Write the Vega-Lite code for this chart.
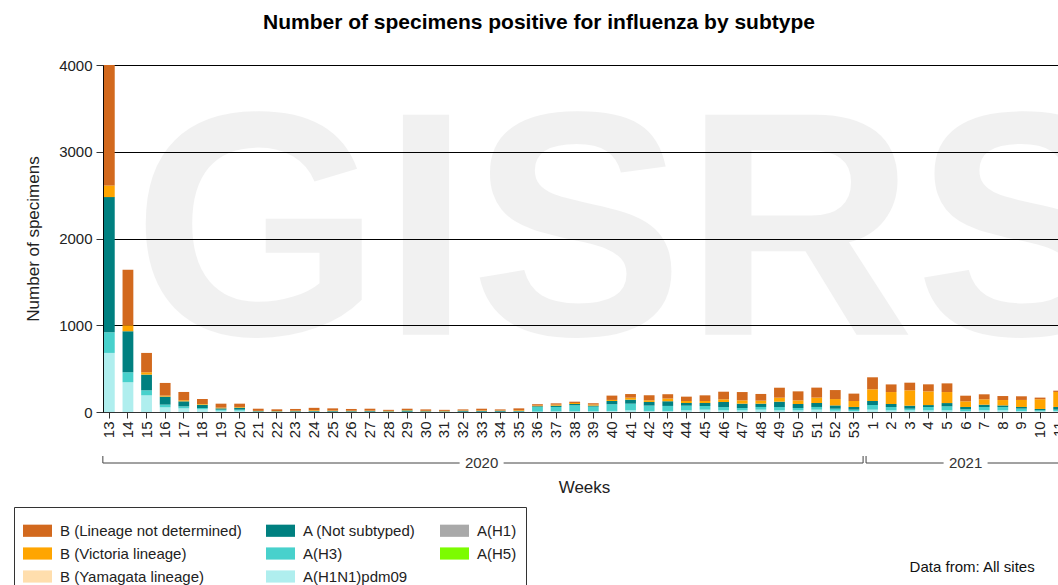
{
  "$schema": "https://vega.github.io/schema/vega-lite/v6.json",
  "padding": {"left": 13, "top": 12, "right": 0, "bottom": 0},
  "background": "white",
  "config": {
    "font": "Liberation Sans",
    "view": {"stroke": null},
    "axis": {"labelFont": "Liberation Sans", "titleFont": "Liberation Sans"},
    "legend": {"labelFont": "Liberation Sans"}
  },
  "title": {
    "text": "Number of specimens positive for influenza by subtype",
    "font": "Liberation Sans",
    "fontSize": 21,
    "fontWeight": "bold",
    "color": "#000",
    "anchor": "middle",
    "dx": -32,
    "offset": 25
  },
  "datasets": {
    "flu": [
      {"week": "13", "pdm09": 681, "h3": 238, "ns": 1558, "vic": 135, "bnd": 1388},
      {"week": "14", "pdm09": 342, "h3": 115, "ns": 473, "vic": 69, "bnd": 642},
      {"week": "15", "pdm09": 192, "h3": 58, "ns": 181, "vic": 27, "bnd": 223},
      {"week": "16", "pdm09": 54, "h3": 31, "ns": 92, "vic": 12, "bnd": 146},
      {"week": "17", "pdm09": 42, "h3": 23, "ns": 58, "vic": 12, "bnd": 96},
      {"week": "18", "pdm09": 31, "h3": 15, "ns": 38, "vic": 8, "bnd": 58},
      {"week": "19", "pdm09": 15, "h3": 12, "ns": 15, "vic": 8, "bnd": 46},
      {"week": "20", "pdm09": 15, "h3": 12, "ns": 23, "vic": 8, "bnd": 38},
      {"week": "21", "pdm09": 2, "h3": 3, "ns": 5, "vic": 3, "bnd": 25},
      {"week": "22", "pdm09": 2, "h3": 2, "ns": 4, "vic": 3, "bnd": 20},
      {"week": "23", "pdm09": 2, "h3": 2, "ns": 6, "vic": 5, "bnd": 20},
      {"week": "24", "pdm09": 2, "h3": 3, "ns": 7, "vic": 8, "bnd": 28},
      {"week": "25", "pdm09": 2, "h3": 2, "ns": 7, "vic": 6, "bnd": 25},
      {"week": "26", "pdm09": 2, "h3": 2, "ns": 6, "vic": 5, "bnd": 20},
      {"week": "27", "pdm09": 2, "h3": 2, "ns": 7, "vic": 5, "bnd": 22},
      {"week": "28", "pdm09": 1, "h3": 2, "ns": 5, "vic": 5, "bnd": 12},
      {"week": "29", "pdm09": 1, "h3": 3, "ns": 14, "vic": 5, "bnd": 15},
      {"week": "30", "pdm09": 1, "h3": 2, "ns": 6, "vic": 5, "bnd": 16},
      {"week": "31", "pdm09": 1, "h3": 2, "ns": 5, "vic": 5, "bnd": 12},
      {"week": "32", "pdm09": 1, "h3": 3, "ns": 10, "vic": 4, "bnd": 12},
      {"week": "33", "pdm09": 1, "h3": 3, "ns": 8, "vic": 6, "bnd": 20},
      {"week": "34", "pdm09": 1, "h3": 3, "ns": 10, "vic": 4, "bnd": 12},
      {"week": "35", "pdm09": 2, "h3": 4, "ns": 6, "vic": 8, "bnd": 22},
      {"week": "36", "pdm09": 4, "h3": 55, "ns": 8, "vic": 8, "bnd": 15},
      {"week": "37", "pdm09": 8, "h3": 50, "ns": 15, "vic": 12, "bnd": 15},
      {"week": "38", "pdm09": 8, "h3": 69, "ns": 15, "vic": 12, "bnd": 15},
      {"week": "39", "pdm09": 8, "h3": 54, "ns": 12, "vic": 12, "bnd": 15},
      {"week": "40", "pdm09": 12, "h3": 77, "ns": 38, "vic": 12, "bnd": 50},
      {"week": "41", "pdm09": 19, "h3": 77, "ns": 46, "vic": 23, "bnd": 42},
      {"week": "42", "pdm09": 12, "h3": 62, "ns": 42, "vic": 19, "bnd": 58},
      {"week": "43", "pdm09": 12, "h3": 58, "ns": 54, "vic": 31, "bnd": 50},
      {"week": "44", "pdm09": 19, "h3": 54, "ns": 31, "vic": 23, "bnd": 50},
      {"week": "45", "pdm09": 27, "h3": 42, "ns": 35, "vic": 23, "bnd": 65},
      {"week": "46", "pdm09": 19, "h3": 38, "ns": 58, "vic": 31, "bnd": 88},
      {"week": "47", "pdm09": 19, "h3": 27, "ns": 50, "vic": 38, "bnd": 96},
      {"week": "48", "pdm09": 27, "h3": 31, "ns": 38, "vic": 35, "bnd": 77},
      {"week": "49", "pdm09": 19, "h3": 38, "ns": 62, "vic": 46, "bnd": 115},
      {"week": "50", "pdm09": 19, "h3": 27, "ns": 46, "vic": 42, "bnd": 104},
      {"week": "51", "pdm09": 27, "h3": 31, "ns": 46, "vic": 62, "bnd": 115},
      {"week": "52", "pdm09": 15, "h3": 23, "ns": 38, "vic": 73, "bnd": 104},
      {"week": "53", "pdm09": 12, "h3": 15, "ns": 31, "vic": 69, "bnd": 85},
      {"week": "1", "pdm09": 27, "h3": 54, "ns": 46, "vic": 135, "bnd": 138},
      {"week": "2", "pdm09": 19, "h3": 38, "ns": 35, "vic": 138, "bnd": 88},
      {"week": "3", "pdm09": 19, "h3": 19, "ns": 35, "vic": 177, "bnd": 88},
      {"week": "4", "pdm09": 19, "h3": 38, "ns": 23, "vic": 158, "bnd": 81},
      {"week": "5", "pdm09": 19, "h3": 46, "ns": 38, "vic": 127, "bnd": 100},
      {"week": "6", "pdm09": 12, "h3": 19, "ns": 27, "vic": 65, "bnd": 65},
      {"week": "7", "pdm09": 19, "h3": 38, "ns": 27, "vic": 62, "bnd": 58},
      {"week": "8", "pdm09": 19, "h3": 38, "ns": 19, "vic": 62, "bnd": 46},
      {"week": "9", "pdm09": 12, "h3": 27, "ns": 19, "vic": 81, "bnd": 42},
      {"week": "10", "pdm09": 8, "h3": 12, "ns": 15, "vic": 112, "bnd": 19},
      {"week": "11", "pdm09": 12, "h3": 15, "ns": 31, "vic": 173, "bnd": 15}
    ],
    "subtypes": [
      {"key": "pdm09", "label": "A(H1N1)pdm09", "rank": 1},
      {"key": "h3", "label": "A(H3)", "rank": 2},
      {"key": "ns", "label": "A (Not subtyped)", "rank": 4},
      {"key": "vic", "label": "B (Victoria lineage)", "rank": 6},
      {"key": "bnd", "label": "B (Lineage not determined)", "rank": 7}
    ],
    "years": [
      {"year": "2020", "start": "13", "end": "53", "mid": "33"},
      {"year": "2021", "start": "1", "end": "11", "mid": "6"}
    ]
  },
  "vconcat": [
    {
      "width": 962,
      "height": 347,
      "layer": [
        {
          "data": {"values": [{}]},
          "mark": {"type": "text", "text": "GISRS", "font": "Liberation Sans", "fontSize": 320, "fontWeight": "bold", "fill": "#000", "opacity": 0.05, "align": "center", "baseline": "alphabetic"},
          "encoding": {
            "x": {"datum": "41", "type": "ordinal", "bandPosition": 0.5},
            "y": {"datum": 890, "type": "quantitative"}
          }
        },
        {
          "data": {"name": "flu"},
          "transform": [
            {"fold": ["pdm09", "h3", "ns", "vic", "bnd"], "as": ["key", "count"]},
            {"lookup": "key", "from": {"data": {"name": "subtypes"}, "key": "key", "fields": ["label", "rank"]}}
          ],
          "mark": {"type": "bar"},
          "encoding": {
            "x": {
              "field": "week", "type": "ordinal", "sort": null,
              "scale": {"domain": ["13","14","15","16","17","18","19","20","21","22","23","24","25","26","27","28","29","30","31","32","33","34","35","36","37","38","39","40","41","42","43","44","45","46","47","48","49","50","51","52","53","1","2","3","4","5","6","7","8","9","10","11"], "paddingInner": 0.42, "paddingOuter": 0.05},
              "axis": {"title": null, "labelAngle": -90, "labelFontSize": 15, "labelColor": "#222", "labelAlign": "right", "labelBaseline": "middle", "labelPadding": 3, "tickSize": 6, "tickColor": "#333", "domainColor": "#333", "grid": false}
            },
            "y": {
              "field": "count", "type": "quantitative", "stack": "zero",
              "scale": {"domain": [0, 4000], "nice": false},
              "axis": {"title": "Number of specimens", "format": "d", "titleFontSize": 17, "titleFontWeight": "normal", "titleColor": "#222", "titlePadding": 16, "labelFontSize": 15, "labelColor": "#222", "labelPadding": 4, "values": [0, 1000, 2000, 3000, 4000], "tickSize": 7, "tickColor": "#333", "domainColor": "#000", "grid": true, "gridColor": "#000", "gridOpacity": 1}
            },
            "color": {
              "field": "label", "type": "nominal",
              "scale": {
                "domain": ["B (Lineage not determined)", "B (Victoria lineage)", "B (Yamagata lineage)", "A (Not subtyped)", "A(H3)", "A(H1N1)pdm09", "A(H1)", "A(H5)"],
                "range": ["#d2691e", "#ffa500", "#ffdead", "#008080", "#48d1cc", "#afeeee", "#a9a9a9", "#7cfc00"]
              },
              "legend": {
                "orient": "none", "legendX": -89, "legendY": 442, "columns": 3, "title": null,
                "symbolType": "M-1,-0.42H1V0.42H-1Z", "symbolSize": 841, "symbolStrokeWidth": 0, "symbolOpacity": 1,
                "labelFontSize": 15, "labelColor": "#222", "labelOffset": 8, "labelLimit": 300,
                "rowPadding": -0.5, "columnPadding": 24, "padding": 9,
                "strokeColor": "#333", "fillColor": "white", "cornerRadius": 0
              }
            },
            "order": {"field": "rank", "type": "quantitative"}
          }
        }
      ]
    },
    {
      "width": 962,
      "height": 14,
      "layer": [
        {
          "data": {"name": "years"},
          "mark": {"type": "rule", "color": "#444", "strokeWidth": 1},
          "encoding": {
            "x": {
              "field": "start", "type": "ordinal", "bandPosition": -0.1,
              "scale": {"domain": ["13","14","15","16","17","18","19","20","21","22","23","24","25","26","27","28","29","30","31","32","33","34","35","36","37","38","39","40","41","42","43","44","45","46","47","48","49","50","51","52","53","1","2","3","4","5","6","7","8","9","10","11"], "paddingInner": 0.42, "paddingOuter": 0.05},
              "axis": {"title": "Weeks", "labels": false, "ticks": false, "domain": false, "grid": false, "titleFontSize": 17, "titleFontWeight": "normal", "titleColor": "#222", "titlePadding": 9}
            },
            "x2": {"field": "end", "bandPosition": 1.35},
            "y": {"datum": 0.5, "type": "quantitative", "scale": {"domain": [0, 1]}, "axis": null}
          }
        },
        {
          "data": {"name": "years"},
          "mark": {"type": "rule", "color": "#444", "strokeWidth": 1},
          "encoding": {
            "x": {"field": "start", "type": "ordinal", "bandPosition": -0.1},
            "y": {"datum": 0.5, "type": "quantitative"},
            "y2": {"datum": 1}
          }
        },
        {
          "data": {"name": "years"},
          "mark": {"type": "rule", "color": "#444", "strokeWidth": 1},
          "encoding": {
            "x": {"field": "end", "type": "ordinal", "bandPosition": 1.35},
            "y": {"datum": 0.5, "type": "quantitative"},
            "y2": {"datum": 1}
          }
        },
        {
          "data": {"name": "years"},
          "mark": {"type": "point", "shape": "M-1,-0.5H1V0.5H-1Z", "filled": true, "color": "white", "opacity": 1, "strokeWidth": 0, "size": 1936},
          "encoding": {
            "x": {"field": "mid", "type": "ordinal"},
            "y": {"datum": 0.5, "type": "quantitative"}
          }
        },
        {
          "data": {"name": "years"},
          "mark": {"type": "text", "fontSize": 15, "color": "#333", "align": "center", "baseline": "middle"},
          "encoding": {
            "x": {"field": "mid", "type": "ordinal"},
            "y": {"datum": 0.5, "type": "quantitative"},
            "text": {"field": "year"}
          }
        },
        {
          "data": {"values": [{"note": "Data from: All sites"}]},
          "mark": {"type": "text", "fontSize": 15, "color": "#111", "align": "right", "baseline": "middle"},
          "encoding": {
            "x": {"datum": "10", "type": "ordinal", "bandPosition": 0},
            "y": {"datum": -6.9, "type": "quantitative"},
            "text": {"field": "note"}
          }
        }
      ]
    }
  ],
  "spacing": 14,
  "resolve": {"scale": {"x": "shared", "y": "independent"}}
}
